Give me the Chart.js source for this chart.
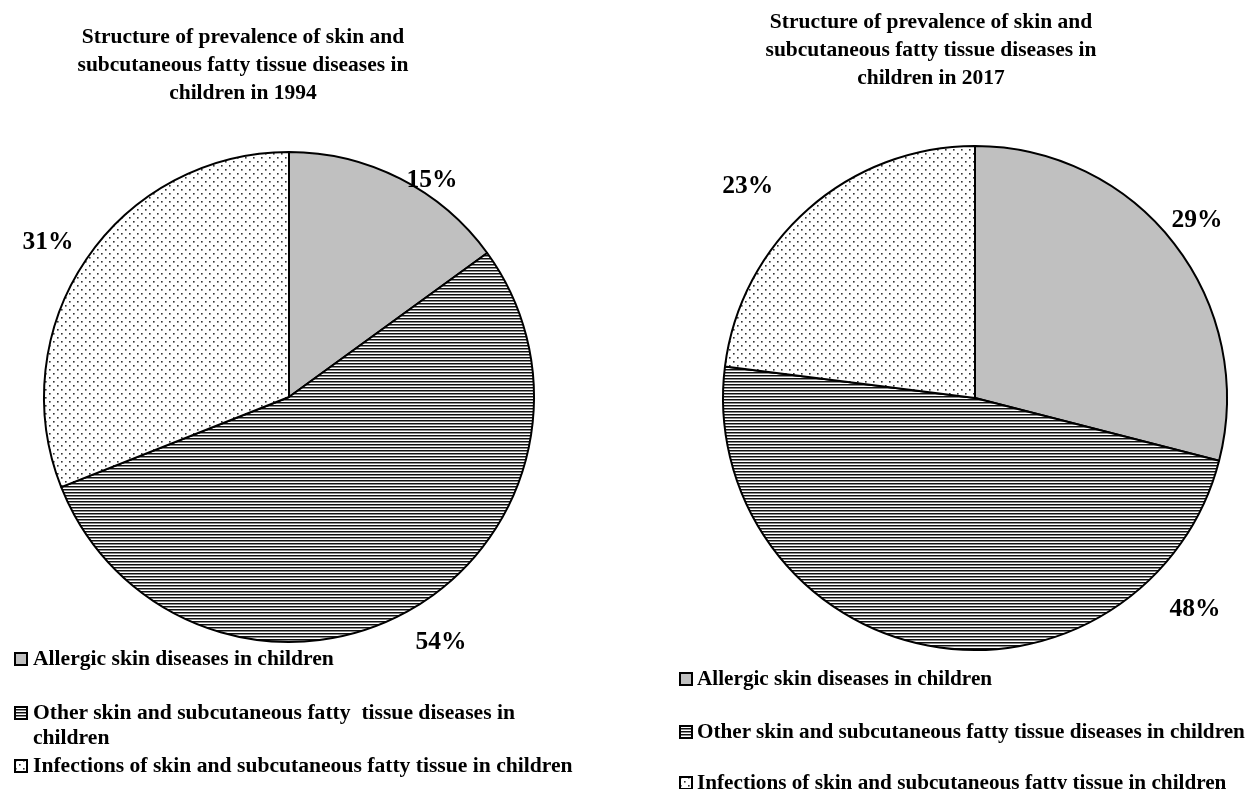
<!DOCTYPE html>
<html><head><meta charset="utf-8">
<script src="https://cdn.jsdelivr.net/npm/chart.js@4.4.0/dist/chart.umd.min.js"></script>
<style>
html,body{margin:0;padding:0;background:#fff;width:1252px;height:789px;overflow:hidden;position:relative;font-family:"Liberation Serif","Times New Roman",serif;font-weight:bold;color:#000}
canvas.pie{position:absolute;top:0}
.title{position:absolute;text-align:center;font-size:21.5px;line-height:28px;width:460px;white-space:nowrap}
.leg{position:absolute;font-size:21.6px;line-height:25px;white-space:pre;}
.leg.r{font-size:21.2px;}
</style></head><body>
<canvas id="c1994" class="pie" width="600" height="789" style="left:0;width:600px;height:789px"></canvas>
<canvas id="c2017" class="pie" width="632" height="789" style="left:620px;width:632px;height:789px"></canvas>
<div id="t1994" class="title" style="left:13px;top:22px"></div>
<div id="t2017" class="title" style="left:701px;top:7px"></div>
<div id="legends"></div>
<script>
// ---- data ----
const categories = ['Allergic skin diseases in children', 'Other skin and subcutaneous fatty tissue diseases in children', 'Infections of skin and subcutaneous fatty tissue in children'];
const legend1994 = [['Allergic skin diseases in children'], ['Other skin and subcutaneous fatty  tissue diseases in', 'children'], ['Infections of skin and subcutaneous fatty tissue in children']];
const legend2017 = [['Allergic skin diseases in children'], ['Other skin and subcutaneous fatty tissue diseases in children'], ['Infections of skin and subcutaneous fatty tissue in children']];
const values1994 = [15, 54, 31];
const values2017 = [29, 48, 23];
const title1994 = ['Structure of prevalence of skin and', 'subcutaneous fatty tissue diseases in', 'children in 1994'];
const title2017 = ['Structure of prevalence of skin and', 'subcutaneous fatty tissue diseases in', 'children in 2017'];

// ---- styles / placement ----
function makePattern(kind) {
  const c = document.createElement('canvas');
  const g = c.getContext('2d');
  if (kind === 'lines') {
    c.width = 4; c.height = 3;
    g.fillStyle = '#fff'; g.fillRect(0, 0, 4, 3);
    g.fillStyle = '#111'; g.fillRect(0, 0, 4, 1);
    g.fillStyle = '#8a8a8a'; g.fillRect(0, 1, 4, 1);
  } else if (kind === 'dots') {
    c.width = 8; c.height = 8;
    g.fillStyle = '#fff'; g.fillRect(0, 0, 8, 8);
    g.fillStyle = '#333';
    g.fillRect(1, 1, 1.6, 1.6);
    g.fillRect(5, 5, 1.6, 1.6);
  }
  return g.createPattern(c, 'repeat');
}
const fills = ['#c0c0c0', makePattern('lines'), makePattern('dots')];
// label placement: [angle from top (deg, clockwise), distance as multiple of radius]
const labelPlace1994 = [[33.4, 1.061], [148.2, 1.177], [-57.3, 1.169]];
const labelPlace2017 = [[51.4, 1.127], [133.9, 1.212], [-47.0, 1.233]];

const pctLabels = {
  id: 'pctLabels',
  afterDatasetsDraw(chart, args, opts) {
    const meta = chart.getDatasetMeta(0);
    const ctx = chart.ctx;
    ctx.save();
    ctx.font = 'bold 25.5px "Liberation Serif", "Times New Roman", serif';
    ctx.fillStyle = '#000';
    ctx.textAlign = 'center';
    ctx.textBaseline = 'middle';
    meta.data.forEach((arc, i) => {
      const p = arc.getProps(['x', 'y', 'outerRadius'], true);
      const [deg, k] = opts.place[i];
      const a = deg * Math.PI / 180;
      const r = p.outerRadius * k;
      ctx.fillText(chart.data.datasets[0].data[i] + '%', p.x + r * Math.sin(a), p.y - r * Math.cos(a));
    });
    ctx.restore();
  }
};

function makeChart(id, values, radius, padding, place) {
  return new Chart(document.getElementById(id), {
    type: 'pie',
    data: {
      labels: categories,
      datasets: [{
        data: values,
        backgroundColor: fills,
        borderColor: '#000',
        borderWidth: 2,
        radius: radius
      }]
    },
    options: {
      responsive: false,
      animation: false,
      layout: { padding: padding },
      plugins: {
        legend: { display: false },
        title: { display: false },
        tooltip: { enabled: false },
        pctLabels: { place: place }
      }
    },
    plugins: [pctLabels]
  });
}
makeChart('c1994', values1994, 245, { left: 30, right: 52, top: 100, bottom: 95 }, labelPlace1994);
makeChart('c2017', values2017, 252, { left: 80, right: 2, top: 100, bottom: 93 }, labelPlace2017);

document.getElementById('t1994').innerHTML = title1994.join('<br>');
document.getElementById('t2017').innerHTML = title2017.join('<br>');

// legends
function swatch(i) {
  const c = document.createElement('canvas');
  c.width = 14; c.height = 14;
  const g = c.getContext('2d');
  g.fillStyle = fills[i];
  g.fillRect(0, 0, 14, 14);
  g.strokeStyle = '#000'; g.lineWidth = 2;
  g.strokeRect(1, 1, 12, 12);
  return c;
}
function buildLegend(lines, boxX, textX, tops, cls) {
  const host = document.getElementById('legends');
  lines.forEach((ls, i) => {
    const d = document.createElement('div');
    d.className = 'leg ' + cls;
    d.style.left = textX + 'px';
    d.style.top = tops[i] + 'px';
    d.innerHTML = ls.join('<br>');
    host.appendChild(d);
    const s = swatch(i);
    s.style.position = 'absolute';
    s.style.left = boxX + 'px';
    s.style.top = (tops[i] + 6) + 'px';
    host.appendChild(s);
  });
}
buildLegend(legend1994, 14, 33, [646, 700, 753], 'l');
buildLegend(legend2017, 679, 697, [666, 719, 770], 'r');
</script>
</body></html>
